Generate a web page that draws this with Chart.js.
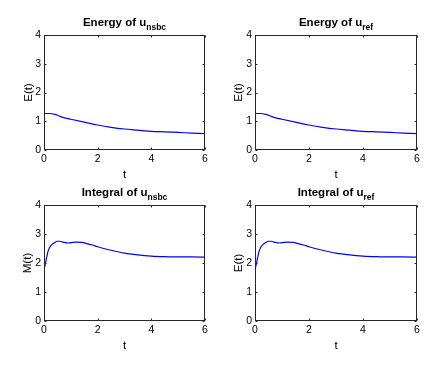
<!DOCTYPE html>
<html>
<head>
<meta charset="utf-8">
<script src="https://cdn.jsdelivr.net/npm/chart.js@4.4.1/dist/chart.umd.min.js"></script>
<style>
  html, body { margin: 0; padding: 0; background: #ffffff; }
  body { width: 436px; height: 367px; position: relative; overflow: hidden; }
  .panel { position: absolute; }
</style>
</head>
<body>
<div class="panel" id="p0" style="left:0px;top:0px;width:218px;height:183px"><canvas id="c0"></canvas></div>
<div class="panel" id="p1" style="left:218px;top:0px;width:218px;height:183px"><canvas id="c1"></canvas></div>
<div class="panel" id="p2" style="left:0px;top:183px;width:218px;height:184px"><canvas id="c2"></canvas></div>
<div class="panel" id="p3" style="left:218px;top:183px;width:218px;height:184px"><canvas id="c3"></canvas></div>
<script>
// ---------------- data ----------------
const tEnergy      = [0, 0.2, 0.4, 0.5, 0.6, 0.8, 1.0, 1.5, 2.0, 2.5, 3.0, 3.5, 4.0, 4.5, 5.0, 5.5, 6.0];
const energyNsbc   = [1.27, 1.27, 1.24, 1.21, 1.17, 1.11, 1.07, 0.97, 0.87, 0.79, 0.73, 0.69, 0.65, 0.63, 0.61, 0.59, 0.57];
const energyRef    = [1.27, 1.27, 1.24, 1.21, 1.17, 1.11, 1.07, 0.97, 0.87, 0.79, 0.73, 0.69, 0.65, 0.63, 0.61, 0.59, 0.57];
const tIntegral    = [0, 0.05, 0.1, 0.15, 0.2, 0.3, 0.4, 0.5, 0.6, 0.7, 0.8, 0.9, 1.0, 1.2, 1.4, 1.6, 1.8, 2.0, 2.5, 3.0, 3.5, 4.0, 4.5, 5.0, 5.5, 6.0];
const integralNsbc = [1.77, 1.97, 2.2, 2.4, 2.52, 2.64, 2.71, 2.75, 2.75, 2.72, 2.70, 2.69, 2.70, 2.72, 2.71, 2.67, 2.62, 2.56, 2.44, 2.34, 2.28, 2.24, 2.22, 2.21, 2.21, 2.20];
const integralRef  = [1.77, 1.97, 2.2, 2.4, 2.52, 2.64, 2.71, 2.75, 2.75, 2.72, 2.70, 2.69, 2.70, 2.72, 2.71, 2.67, 2.62, 2.56, 2.44, 2.34, 2.28, 2.24, 2.22, 2.21, 2.21, 2.20];
const xTicks = [0, 2, 4, 6];
const yTicks = [0, 1, 2, 3, 4];
const titlesMain = ['Energy of u', 'Energy of u', 'Integral of u', 'Integral of u'];
const titlesSub  = ['nsbc', 'ref', 'nsbc', 'ref'];
const yLabels = ['E(t)', 'E(t)', 'M(t)', 'E(t)'];
const xLabel = 't';

// ---------------- layout ----------------
const FONT = "'Liberation Sans', Arial, Helvetica, sans-serif";
const AXIS_COLOR = '#262626';
const panels = [
  { id: 'c0', px: 0,   py: 0,   pw: 218, ph: 183, area: [44, 35, 205, 150],  xLab: 175, yLab: 28.5 },
  { id: 'c1', px: 218, py: 0,   pw: 218, ph: 183, area: [255, 35, 417, 150], xLab: 175, yLab: 239 },
  { id: 'c2', px: 0,   py: 183, pw: 218, ph: 184, area: [44, 205, 205, 321], xLab: 346, yLab: 27.5 },
  { id: 'c3', px: 218, py: 183, pw: 218, ph: 184, area: [255, 205, 417, 321], xLab: 346, yLab: 239 }
];
const series = [
  [tEnergy, energyNsbc], [tEnergy, energyRef], [tIntegral, integralNsbc], [tIntegral, integralRef]
];

const boxPlugin = {
  id: 'matlabBox',
  afterDraw(chart, args, opts) {
    const { ctx, chartArea: a, scales: { x, y } } = chart;
    ctx.save();
    ctx.strokeStyle = AXIS_COLOR;
    ctx.lineWidth = 1;
    const L = Math.round(a.left) + 0.5, R = Math.round(a.right) - 0.5;
    const T = Math.round(a.top) + 0.5, B = Math.round(a.bottom) - 0.5;
    ctx.strokeRect(L, T, R - L, B - T);
    const tl = 2;
    ctx.beginPath();
    x.ticks.forEach(t => {
      const p = Math.round(x.getPixelForValue(t.value)) + 0.5;
      ctx.moveTo(p, B); ctx.lineTo(p, B - tl);
      ctx.moveTo(p, T); ctx.lineTo(p, T + tl);
    });
    y.ticks.forEach(t => {
      const p = Math.round(y.getPixelForValue(t.value)) + 0.5;
      ctx.moveTo(L, p); ctx.lineTo(L + tl, p);
      ctx.moveTo(R, p); ctx.lineTo(R - tl, p);
    });
    ctx.stroke();
    // title with subscript
    const mainFont = 'bold 11.5px ' + FONT;
    const subFont = 'bold 8.5px ' + FONT;
    ctx.font = mainFont;
    const w1 = ctx.measureText(opts.main).width;
    ctx.font = subFont;
    const w2 = ctx.measureText(opts.sub).width;
    const cx = (a.left + a.right) / 2;
    const x0 = cx - (w1 + w2) / 2;
    const base = a.top - 9;
    ctx.fillStyle = '#000000';
    ctx.textBaseline = 'alphabetic';
    ctx.textAlign = 'left';
    ctx.font = mainFont;
    ctx.fillText(opts.main, x0, base);
    ctx.font = subFont;
    ctx.fillText(opts.sub, x0 + w1, base + 3.5);
    ctx.restore();
  }
};

panels.forEach((p, i) => {
  const [l, t, r, b] = p.area;
  const yAxisW = l - p.px;
  const padRight = p.px + p.pw - r;
  const padTop = t - p.py;
  const xAxisH = p.py + p.ph - b;
  const labFont = 11.5, lh = labFont * 1.2;
  const xTitlePadBottom = (p.py + p.ph - p.xLab) - lh / 2;
  const yTitlePadTop = (p.yLab - p.px) - lh / 2;
  const [tx, vy] = series[i];
  const pts = tx.map((v, k) => ({ x: v, y: vy[k] }));
  new Chart(document.getElementById(p.id), {
    type: 'line',
    data: { datasets: [{ data: pts, borderColor: '#0000ff', borderWidth: 1.2, pointRadius: 0, fill: false, cubicInterpolationMode: 'monotone' }] },
    options: {
      responsive: true,
      maintainAspectRatio: false,
      animation: false,
      devicePixelRatio: 1,
      layout: { padding: { left: 0, right: padRight, top: padTop, bottom: 0 } },
      plugins: {
        legend: { display: false },
        tooltip: { enabled: false },
        title: { display: false },
        matlabBox: { main: titlesMain[i], sub: titlesSub[i] }
      },
      scales: {
        x: {
          type: 'linear', min: 0, max: 6,
          afterBuildTicks: s => { s.ticks = xTicks.map(v => ({ value: v })); },
          afterFit: s => { s.height = xAxisH; },
          grid: { display: false, drawTicks: false },
          border: { display: false },
          ticks: { color: '#000000', padding: 3, maxRotation: 0, font: { family: FONT, size: 10.5 } },
          title: { display: true, text: xLabel, color: '#000000', font: { family: FONT, size: labFont }, padding: { top: 0, bottom: xTitlePadBottom } }
        },
        y: {
          type: 'linear', min: 0, max: 4,
          afterBuildTicks: s => { s.ticks = yTicks.map(v => ({ value: v })); },
          afterFit: s => { s.width = yAxisW; },
          grid: { display: false, drawTicks: false },
          border: { display: false },
          ticks: { color: '#000000', padding: 3, font: { family: FONT, size: 10.5 } },
          title: { display: true, text: yLabels[i], color: '#000000', font: { family: FONT, size: labFont }, padding: { top: yTitlePadTop, bottom: 0 } }
        }
      }
    },
    plugins: [boxPlugin]
  });
});
</script>
</body>
</html>
